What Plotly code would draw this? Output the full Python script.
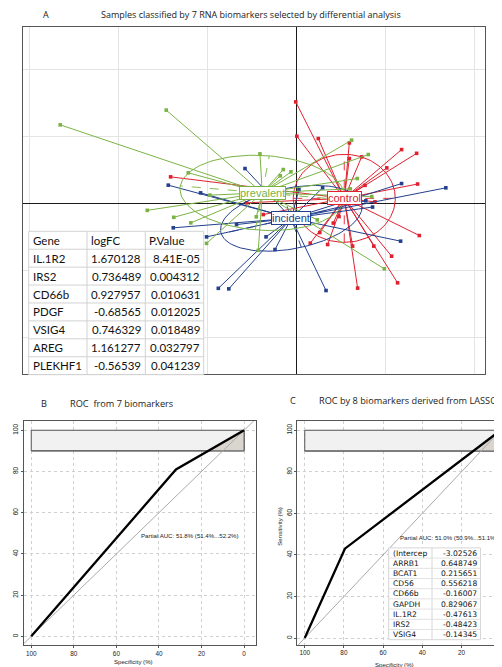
import numpy as np
import plotly.graph_objects as go

W, H = 502, 667

# ---------------- Panel A data (PCA scores; grid step = 1) ----------------
groups = ["control", "incident", "prevalent"]
colors = {"control": "#e0202f", "incident": "#23408e", "prevalent": "#7ab344"}

control_x = [-0.006, 0.006, 0.247, 0.596, 0.596, 0.734, 1.183, 1.352, 1.017, 0.772,
             1.363, 0.884, 1.382, 1.071, 1.138, 0.689, 0.871, 0.633, 0.352, 0.157,
             0.416, 0.480, -0.371, -0.558, -1.412, 0.264]
control_y = [1.522, 1.010, 0.975, 0.910, 0.676, 0.701, 0.810, 0.754, 0.537, 0.276,
             0.296, 0.030, -0.473, -0.781, -1.179, -1.258, -0.631, -0.631, -0.607, -0.587,
             -0.287, -0.190, -0.160, 0.015, 0.403, -0.428]

incident_x = [-0.576, -1.438, -1.075, -1.382, -0.671, -1.008, -0.340, 0.030, -0.758,
              -0.876, -0.239, 0.334, 1.183, 1.680, 0.857, 1.172, 0.296, 0.781]
incident_y = [0.527, 0.279, 0.164, -0.358, -0.309, -0.493, -0.493, 0.213, -1.269,
              -1.261, -0.682, -1.294, 0.303, 0.239, -0.048, -0.557, 0.239, 0.045]

prevalent_x = [-2.652, -1.461, -1.213, -1.674, -1.376, -1.185, -1.008, -0.970, -0.408,
               -0.146, -0.060, -0.180, -0.449, -0.427, 0.621, 0.809, 0.685, 0.848,
               0.607, 0.236, 0.989]
prevalent_y = [1.179, 1.399, 0.463, -0.097, -0.201, -0.284, -0.590, 0.130, 0.746,
               0.512, 0.478, 0.418, -0.194, -0.694, 0.951, 0.736, 0.378, 0.109,
               0.224, -0.239, -0.970]

points = {"control": (control_x, control_y),
          "incident": (incident_x, incident_y),
          "prevalent": (prevalent_x, prevalent_y)}

centroid_x = {"control": 0.539, "incident": -0.056, "prevalent": -0.382}
centroid_y = {"control": 0.082, "incident": -0.216, "prevalent": 0.164}
ell_axis1 = {"control": (0.573, 0.0), "incident": (-0.787, -0.231), "prevalent": (-0.921, 0.104)}
ell_axis2 = {"control": (0.0, 0.657), "incident": (0.112, -0.433), "prevalent": (0.079, 0.552)}

# table in panel A
genes = ["IL.1R2", "IRS2", "CD66b", "PDGF", "VSIG4", "AREG", "PLEKHF1"]
logfc = ["1.670128", "0.736489", "0.927957", "-0.68565", "0.746329", "1.161277", "-0.56539"]
pvals = ["8.41E-05", "0.004312", "0.010631", "0.012025", "0.018489", "0.032797", "0.041239"]
table_header = ["Gene", "logFC", "P.Value"]

# ---------------- Panels B and C data ----------------
rocB_spec = [100, 32, 0]
rocB_sens = [0, 81, 100]
rocC_spec = [100, 79.5, 0]
rocC_sens = [0, 43, 100]
pauc_B = "Partial AUC: 51.8% (51.4%...52.2%)"
pauc_C = "Partial AUC: 51.0% (50.9%...51.1%)"
pauc_range = (90, 100)
ticks_roc = [0, 20, 40, 60, 80, 100]

lasso_terms = ["(Intercep", "ARRB1", "BCAT1", "CD56", "CD66b", "GAPDH", "IL.1R2", "IRS2", "VSIG4"]
lasso_coef = ["-3.02526", "0.648749", "0.215651", "0.556218", "-0.16007", "0.829067",
              "-0.47613", "-0.48423", "-0.14345"]


def pxx(x):
    return x / W


def pxy(y):
    return 1 - y / H


fig = go.Figure()

# ---------------- Panel A ----------------
t = np.linspace(0, 2 * np.pi, 120)
for g in groups:
    xs, ys = points[g]
    cx, cy = centroid_x[g], centroid_y[g]
    c = colors[g]
    lx, ly = [], []
    for x, y in zip(xs, ys):
        lx += [cx, x, None]
        ly += [cy, y, None]
    fig.add_trace(go.Scatter(x=lx, y=ly, mode="lines", line=dict(color=c, width=1),
                             xaxis="x", yaxis="y", hoverinfo="skip"))
    fig.add_trace(go.Scatter(x=xs, y=ys, mode="markers",
                             marker=dict(symbol="square", size=3.6, color=c, line=dict(width=0)),
                             xaxis="x", yaxis="y"))
    a = np.array(ell_axis1[g])
    b = np.array(ell_axis2[g])
    ex = cx + np.cos(t) * a[0] + np.sin(t) * b[0]
    ey = cy + np.cos(t) * a[1] + np.sin(t) * b[1]
    fig.add_trace(go.Scatter(x=ex, y=ey, mode="lines", line=dict(color=c, width=1),
                             xaxis="x", yaxis="y", hoverinfo="skip"))
    fig.add_trace(go.Scatter(x=[cx - a[0], cx + a[0], None, cx - b[0], cx + b[0]],
                             y=[cy - a[1], cy + a[1], None, cy - b[1], cy + b[1]],
                             mode="lines", line=dict(color=c, width=0.9, dash="dash"),
                             xaxis="x", yaxis="y", hoverinfo="skip"))

annotations = []
shapes = []
for g in groups:
    annotations.append(dict(x=centroid_x[g], y=centroid_y[g], xref="x", yref="y", text=g,
                            showarrow=False, font=dict(family="Liberation Sans", size=11, color=colors[g]),
                            bgcolor="white", bordercolor=colors[g], borderwidth=1, borderpad=0))

# table A
col_edges = [20.7, 79.0, 137.3, 195.7]
tab_top, row_h = 223.3, 17.92
n_rows = len(genes) + 1
tab_bot = tab_top + n_rows * row_h
shapes.append(dict(type="rect", xref="paper", yref="paper", x0=pxx(col_edges[0]), x1=pxx(col_edges[-1]),
                   y0=pxy(tab_bot), y1=pxy(tab_top), fillcolor="white", line=dict(color="#d2d2d2", width=1),
                   layer="above"))
for xe in col_edges[1:-1]:
    shapes.append(dict(type="line", xref="paper", yref="paper", x0=pxx(xe), x1=pxx(xe),
                       y0=pxy(tab_bot), y1=pxy(tab_top), line=dict(color="#d2d2d2", width=1), layer="above"))
for r in range(1, n_rows):
    yy = tab_top + r * row_h
    shapes.append(dict(type="line", xref="paper", yref="paper", x0=pxx(col_edges[0]), x1=pxx(col_edges[-1]),
                       y0=pxy(yy), y1=pxy(yy), line=dict(color="#d2d2d2", width=1), layer="above"))
tfont = dict(family="Lato", size=11.5, color="#111")
for j, h in enumerate(table_header):
    annotations.append(dict(x=pxx(col_edges[j] + 2), y=pxy(tab_top + row_h / 2), xref="paper", yref="paper",
                            text=h, showarrow=False, xanchor="left", yanchor="middle", font=tfont))
for i, (gname, lf, pv) in enumerate(zip(genes, logfc, pvals)):
    yc = pxy(tab_top + (i + 1.5) * row_h)
    annotations.append(dict(x=pxx(col_edges[0] + 2), y=yc, xref="paper", yref="paper", text=gname,
                            showarrow=False, xanchor="left", yanchor="middle", font=tfont))
    annotations.append(dict(x=pxx(col_edges[2] - 2), y=yc, xref="paper", yref="paper", text=lf,
                            showarrow=False, xanchor="right", yanchor="middle", font=tfont))
    annotations.append(dict(x=pxx(col_edges[3] - 2), y=yc, xref="paper", yref="paper", text=pv,
                            showarrow=False, xanchor="right", yanchor="middle", font=tfont))


# ---------------- Panels B and C ----------------
def roc_panel(xa, ya, spec, sens, label, lab_spec, lab_sens):
    lo, hi = pauc_range
    fig.add_trace(go.Scatter(x=[100, 0, 0, 100, 100], y=[lo, lo, hi, hi, lo], mode="lines",
                             fill="toself", fillcolor="#f1f1f1", line=dict(color="#555", width=1),
                             xaxis=xa, yaxis=ya, hoverinfo="skip"))
    s_lo = float(np.interp(lo, sens, spec))
    px_ = [s_lo] + [s for s, se in zip(spec, sens) if se > lo] + [min(spec), s_lo]
    py_ = [lo] + [se for se in sens if se > lo] + [lo, lo]
    fig.add_trace(go.Scatter(x=px_, y=py_, mode="lines", fill="toself", fillcolor="#dbd5cf",
                             line=dict(width=0), xaxis=xa, yaxis=ya, hoverinfo="skip"))
    fig.add_trace(go.Scatter(x=[100, 0, 0], y=[lo, lo, hi], mode="lines", line=dict(color="#555", width=1),
                             xaxis=xa, yaxis=ya, hoverinfo="skip"))
    fig.add_trace(go.Scatter(x=[120, -20], y=[-20, 120], mode="lines", line=dict(color="#aaaaaa", width=1),
                             xaxis=xa, yaxis=ya, hoverinfo="skip"))
    fig.add_trace(go.Scatter(x=spec, y=sens, mode="lines", line=dict(color="black", width=2.3),
                             xaxis=xa, yaxis=ya, hoverinfo="skip"))
    annotations.append(dict(x=lab_spec, y=lab_sens, xref=xa, yref=ya, text=label, showarrow=False,
                            font=dict(family="Liberation Sans", size=6.1, color="#222")))


roc_panel("x2", "y2", rocB_spec, rocB_sens, pauc_B, 25.5, 48.7)
roc_panel("x3", "y3", rocC_spec, rocC_sens, pauc_C, 26.5, 48.6)

# LASSO table in C
c_left, c_mid, c_right = 380.7, 424.0, 472.5
c_top, c_rowh = 539.9, 10.2
c_bot = c_top + len(lasso_terms) * c_rowh
shapes.append(dict(type="rect", xref="paper", yref="paper", x0=pxx(c_left), x1=pxx(c_right),
                   y0=pxy(c_bot), y1=pxy(c_top), fillcolor="white", line=dict(color="#d6d6d6", width=1),
                   layer="above"))
shapes.append(dict(type="line", xref="paper", yref="paper", x0=pxx(c_mid), x1=pxx(c_mid),
                   y0=pxy(c_bot), y1=pxy(c_top), line=dict(color="#d6d6d6", width=1), layer="above"))
for r in range(1, len(lasso_terms)):
    yy = c_top + r * c_rowh
    shapes.append(dict(type="line", xref="paper", yref="paper", x0=pxx(c_left), x1=pxx(c_right),
                       y0=pxy(yy), y1=pxy(yy), line=dict(color="#e2e2e2", width=1), layer="above"))
cfont = dict(family="DejaVu Sans", size=7.6, color="#111")
for i, (term, coef) in enumerate(zip(lasso_terms, lasso_coef)):
    yc = pxy(c_top + (i + 0.5) * c_rowh)
    annotations.append(dict(x=pxx(c_left + 2.5), y=yc, xref="paper", yref="paper", text=term, showarrow=False,
                            xanchor="left", yanchor="middle", font=cfont))
    annotations.append(dict(x=pxx(c_right - 2), y=yc, xref="paper", yref="paper", text=coef, showarrow=False,
                            xanchor="right", yanchor="middle", font=cfont))

# titles and axis labels
title_font = dict(family="Open Sans", size=9, color="#222")
sub_font = dict(family="Open Sans", size=9.2, color="#222")
lab_font = dict(family="Liberation Sans", size=6.1, color="#222")
texts = [
    ("A", 37.7, 7.0, title_font, 0),
    ("Samples classified by 7 RNA biomarkers selected by differential analysis", 243, 7.0, title_font, 0),
    ("B", 36, 395, sub_font, 0),
    ("ROC\u00a0 from 7 biomarkers", 113, 395, sub_font, 0),
    ("C", 285, 392.3, sub_font, 0),
    ("ROC by 8 biomarkers derived from LASSO", 400, 392.3, sub_font, 0),
    ("Specificity (%)", 125, 653, lab_font, 0),
    ("Specificity (%)", 386.7, 656.5, lab_font, 0),
    ("Sensitivity (%)", 270.7, 518, lab_font, -90),
]
for txt, x, y, f, ang in texts:
    annotations.append(dict(x=pxx(x), y=pxy(y), xref="paper", yref="paper", text=txt, showarrow=False,
                            xanchor="center", yanchor="middle", font=f, textangle=ang))

axA = dict(showgrid=True, gridcolor="#e4e4e4", gridwidth=1, dtick=1, tick0=0, zeroline=True,
           zerolinecolor="#1a1a1a", zerolinewidth=1, showticklabels=False, ticks="",
           showline=True, linecolor="#555", linewidth=1, mirror=True)
axR = dict(showgrid=True, gridcolor="#d0d0d0", griddash="dot", gridwidth=1, zeroline=False,
           tickvals=ticks_roc, ticks="outside", ticklen=2, tickcolor="#555",
           tickfont=dict(family="Liberation Sans", size=6.4, color="#222"),
           showline=True, linecolor="#555", linewidth=1, mirror=True)

fig.update_layout(
    width=W, height=H, margin=dict(l=0, r=0, t=0, b=0),
    paper_bgcolor="white", plot_bgcolor="white", showlegend=False,
    xaxis=dict(domain=[15 / W, 477 / W], range=[-3.07, 2.12], anchor="y", **axA),
    yaxis=dict(domain=[1 - 366 / H, 1 - 19 / H], range=[-2.54, 2.64], anchor="x", **axA),
    xaxis2=dict(domain=[16 / W, 248 / W], range=[103.4, -5.6], anchor="y2", **axR),
    yaxis2=dict(domain=[1 - 637 / H, 1 - 413 / H], range=[-4.2, 104.5], anchor="x2", tickangle=-90, **axR),
    xaxis3=dict(domain=[289.3 / W, 499.3 / W], range=[103.8, -3.4], anchor="y3", **axR),
    yaxis3=dict(domain=[1 - 636.7 / H, 1 - 413.3 / H], range=[-3.2, 104.3], anchor="x3", tickangle=-90, **axR),
    annotations=annotations, shapes=shapes,
)

fig.write_html("out.html")
